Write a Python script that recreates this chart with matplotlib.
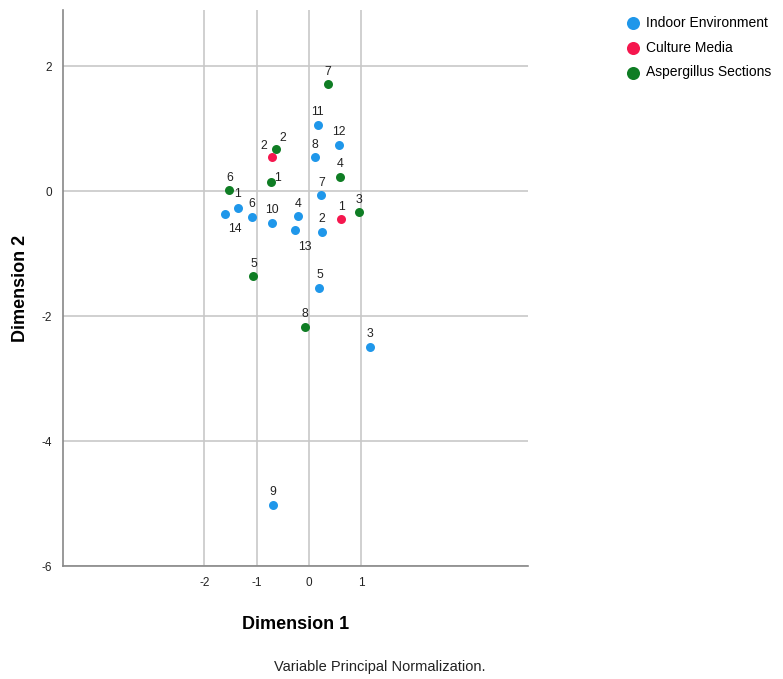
import matplotlib.pyplot as plt

plt.rcParams['font.family'] = ['Liberation Sans', 'DejaVu Sans']
plt.rcParams['axes.unicode_minus'] = False

# Indoor Environment
ind_lab = ['11', '12', '8', '7', '1', '14', '6', '10', '4', '13', '2', '5', '3', '9']
ind_x = [0.17, 0.58, 0.11, 0.24, -1.36, -1.61, -1.09, -0.70, -0.21, -0.26, 0.25, 0.20, 1.16, -0.69]
ind_y = [1.06, 0.74, 0.54, -0.07, -0.27, -0.36, -0.41, -0.51, -0.40, -0.62, -0.65, -1.55, -2.49, -5.02]

# Culture Media
cm_lab = ['2', '1']
cm_x = [-0.71, 0.62]
cm_y = [0.54, -0.45]

# Aspergillus Sections
asp_lab = ['7', '2', '6', '1', '4', '3', '5', '8']
asp_x = [0.36, -0.63, -1.52, -0.73, 0.60, 0.96, -1.06, -0.07]
asp_y = [1.71, 0.67, 0.01, 0.14, 0.23, -0.34, -1.36, -2.17]

# label offsets (points) for the ones not sitting right above the dot
offs = {('i', '14'): (7, -11), ('i', '13'): (7, -12), ('c', '2'): (-6, 8),
        ('a', '2'): (5, 8), ('a', '1'): (5, 3), ('i', '1'): (0, 10)}

fig = plt.figure(figsize=(7.83, 6.79), dpi=100)
ax = fig.add_axes([0.0805, 0.1664, 0.594, 0.819])

blue = '#1f97ea'
red = '#f5174e'
green = '#0f7d24'

for key, lab, xs, ys, col, name in [('i', ind_lab, ind_x, ind_y, blue, 'Indoor Environment'),
                                     ('c', cm_lab, cm_x, cm_y, red, 'Culture Media'),
                                     ('a', asp_lab, asp_x, asp_y, green, 'Aspergillus Sections')]:
    ax.scatter(xs, ys, s=42, color=col, zorder=3, label=name, linewidths=0)
    for t, x, y in zip(lab, xs, ys):
        dx, dy = offs.get((key, t), (0, 9))
        ax.annotate(t, (x, y), xytext=(dx, dy), textcoords='offset points',
                    ha='center', va='center', fontsize=8.8, color='#222222')

ax.set_xlim(-4.7, 4.19)
ax.set_ylim(-6, 2.9)
ax.set_xticks([-2, -1, 0, 1])
ax.set_yticks([2, 0, -2, -4, -6])
ax.grid(True, color='#c8c8c8', linewidth=1.2)
ax.set_axisbelow(True)
ax.tick_params(length=0, labelsize=8.5, colors='#222222', pad=8)
for s in ['top', 'right']:
    ax.spines[s].set_visible(False)
for s in ['left', 'bottom']:
    ax.spines[s].set_color('#888888')
    ax.spines[s].set_linewidth(1.2)

ax.set_xlabel('Dimension 1', fontsize=13, fontweight='bold')
ax.set_ylabel('Dimension 2', fontsize=13, fontweight='bold')
ax.xaxis.set_label_coords(0.5, -0.106)
ax.yaxis.set_label_coords(-0.0925, 0.5)
ax.xaxis.label.set_va('center')
ax.yaxis.label.set_va('center')

fig.legend(loc='upper left', bbox_to_anchor=(0.783, 0.985), frameon=False,
           fontsize=10, handletextpad=0.0, labelspacing=0.78, markerscale=1.45,
           borderaxespad=0)

fig.text(0.485, 0.012, 'Variable Principal Normalization.', ha='center', fontsize=10.5,
         color='#222222')

fig.savefig('out.png', dpi=100)
